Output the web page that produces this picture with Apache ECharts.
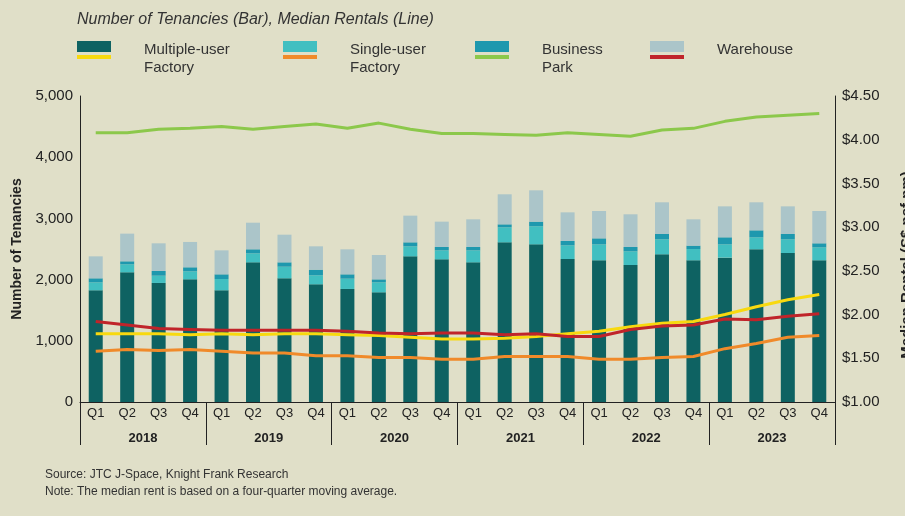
<!DOCTYPE html>
<html>
<head>
<meta charset="utf-8">
<script src="https://cdn.jsdelivr.net/npm/echarts@6/dist/echarts.min.js"></script>
<style>
html,body{margin:0;padding:0;background:#e0dfc8;}
#c{width:905px;height:516px;}
</style>
</head>
<body>
<div id="c"></div>
<script>
const quarters = ['Q1','Q2','Q3','Q4','Q1','Q2','Q3','Q4','Q1','Q2','Q3','Q4','Q1','Q2','Q3','Q4','Q1','Q2','Q3','Q4','Q1','Q2','Q3','Q4'];
const years = ['2018','2019','2020','2021','2022','2023'];
const leftTicks = [0,1000,2000,3000,4000,5000];
const rightTicks = [1.0,1.5,2.0,2.5,3.0,3.5,4.0,4.5];

// Tenancies (stacked bars)
const multiUserTenancies  = [1825,2119,1945,2004,1825,2282,2021,1923,1847,1792,2380,2331,2282,2609,2576,2337,2315,2239,2413,2315,2359,2495,2435,2315];
const singleUserTenancies = [130,131,119,131,185,147,190,147,168,163,164,147,196,245,295,223,261,223,245,185,217,196,223,212];
const businessParkTenancies = [66,49,77,66,76,66,71,92,71,49,65,55,55,49,76,71,98,71,87,55,115,114,87,66];
const warehouseTenancies  = [359,452,452,414,392,435,452,382,409,398,436,414,452,491,512,468,447,534,518,430,506,458,452,528];

// Median rentals (S$ psf pm)
const multiUserRent  = [1.78,1.78,1.78,1.77,1.78,1.77,1.78,1.78,1.77,1.76,1.74,1.72,1.72,1.73,1.75,1.78,1.81,1.86,1.90,1.92,2.00,2.09,2.17,2.23];
const singleUserRent = [1.58,1.60,1.59,1.60,1.58,1.56,1.56,1.53,1.53,1.51,1.51,1.49,1.49,1.52,1.52,1.52,1.49,1.49,1.51,1.52,1.61,1.67,1.74,1.76];
const businessParkRent = [4.08,4.08,4.12,4.13,4.15,4.12,4.15,4.18,4.13,4.19,4.12,4.07,4.07,4.06,4.05,4.08,4.06,4.04,4.11,4.13,4.21,4.26,4.28,4.30];
const warehouseRent  = [1.92,1.88,1.84,1.83,1.82,1.82,1.82,1.82,1.81,1.79,1.78,1.79,1.79,1.77,1.78,1.75,1.75,1.83,1.87,1.88,1.95,1.94,1.98,2.01];

const C = {
  muf:'#0e6262', suf:'#41bfc1', bp:'#1e98ae', wh:'#abc5c9',
  lMuf:'#f8d90f', lSuf:'#f08a2a', lBp:'#8cc84b', lWh:'#c0242a',
  text:'#222'
};
const FONT = '"Liberation Sans", Arial, sans-serif';

const chart = echarts.init(document.getElementById('c'));

function legendItem(x, barColor, lineColor, lines){
  return [
    {type:'rect', shape:{x:x, y:41, width:34, height:11}, style:{fill:barColor}},
    {type:'rect', shape:{x:x, y:55, width:34, height:4}, style:{fill:lineColor}},
    {type:'text', x:x+67, y:41, style:{text:lines, fill:'#333', font:'15px ' + FONT, lineHeight:18}}
  ];
}

const barSeries = (name, data, color) => ({
  name, type:'bar', stack:'t', data, barWidth:14,
  itemStyle:{color}, xAxisIndex:0, yAxisIndex:0, z:2
});
const lineSeries = (name, data, color) => ({
  name, type:'line', data, yAxisIndex:1, xAxisIndex:0, symbol:'none',
  lineStyle:{color, width:3}, itemStyle:{color}, z:5
});

chart.setOption({
  backgroundColor:'#e0dfc8',
  animation:false,
  textStyle:{fontFamily:FONT},
  grid:{left:80, right:70, top:96, bottom:114, containLabel:false, outerBoundsMode:'none'},
  graphic:[
    {type:'text', left:77, top:12, style:{text:'Number of Tenancies (Bar), Median Rentals (Line)', fill:'#333', font:'italic 16px ' + FONT}},
    ...legendItem(77, C.muf, C.lMuf, 'Multiple-user\nFactory'),
    ...legendItem(283, C.suf, C.lSuf, 'Single-user\nFactory'),
    ...legendItem(475, C.bp, C.lBp, 'Business\nPark'),
    ...legendItem(650, C.wh, C.lWh, 'Warehouse'),
    {type:'text', left:45, top:469, style:{text:'Source: JTC J-Space, Knight Frank Research', fill:'#333', font:'12px ' + FONT}},
    {type:'text', left:45, top:486, style:{text:'Note: The median rent is based on a four-quarter moving average.', fill:'#333', font:'12px ' + FONT}}
  ],
  xAxis:[
    {type:'category', data:quarters, position:'bottom',
     axisLine:{show:true, lineStyle:{color:'#222', width:1}},
     axisTick:{show:false},
     axisLabel:{color:C.text, fontSize:13, margin:5, interval:0}},
    {type:'category', data:years, position:'bottom', offset:0,
     axisLine:{show:false},
     axisTick:{show:true, length:43, interval:0, lineStyle:{color:'#222', width:1}},
     axisLabel:{color:C.text, fontSize:13, fontWeight:'bold', margin:30, interval:0},
     splitLine:{show:false}}
  ],
  yAxis:[
    {type:'value', min:leftTicks[0], max:leftTicks[leftTicks.length-1], interval:1000,
     axisLine:{show:true, lineStyle:{color:'#222'}}, axisTick:{show:false}, splitLine:{show:false},
     axisLabel:{color:C.text, fontSize:15, margin:7, formatter:v=>v.toLocaleString('en-US')},
     name:'Number of Tenancies', nameLocation:'middle', nameGap:54, nameRotate:90,
     nameTextStyle:{color:C.text, fontSize:14, fontWeight:'bold'}},
    {type:'value', min:rightTicks[0], max:rightTicks[rightTicks.length-1], interval:0.5, position:'right',
     axisLine:{show:true, lineStyle:{color:'#222'}}, axisTick:{show:false}, splitLine:{show:false},
     axisLabel:{color:C.text, fontSize:15, margin:7, formatter:v=>'$' + v.toFixed(2)},
     name:'Median Rental (S$ psf pm)', nameLocation:'middle', nameGap:64, nameRotate:90,
     nameTextStyle:{color:C.text, fontSize:15, fontWeight:'bold', padding:[0,32,0,0]}}
  ],
  series:[
    barSeries('Multiple-user Factory', multiUserTenancies, C.muf),
    barSeries('Single-user Factory', singleUserTenancies, C.suf),
    barSeries('Business Park', businessParkTenancies, C.bp),
    barSeries('Warehouse', warehouseTenancies, C.wh),
    lineSeries('Business Park Rent', businessParkRent, C.lBp),
    lineSeries('Single-user Factory Rent', singleUserRent, C.lSuf),
    lineSeries('Multiple-user Factory Rent', multiUserRent, C.lMuf),
    lineSeries('Warehouse Rent', warehouseRent, C.lWh)
  ]
});
</script>
</body>
</html>
